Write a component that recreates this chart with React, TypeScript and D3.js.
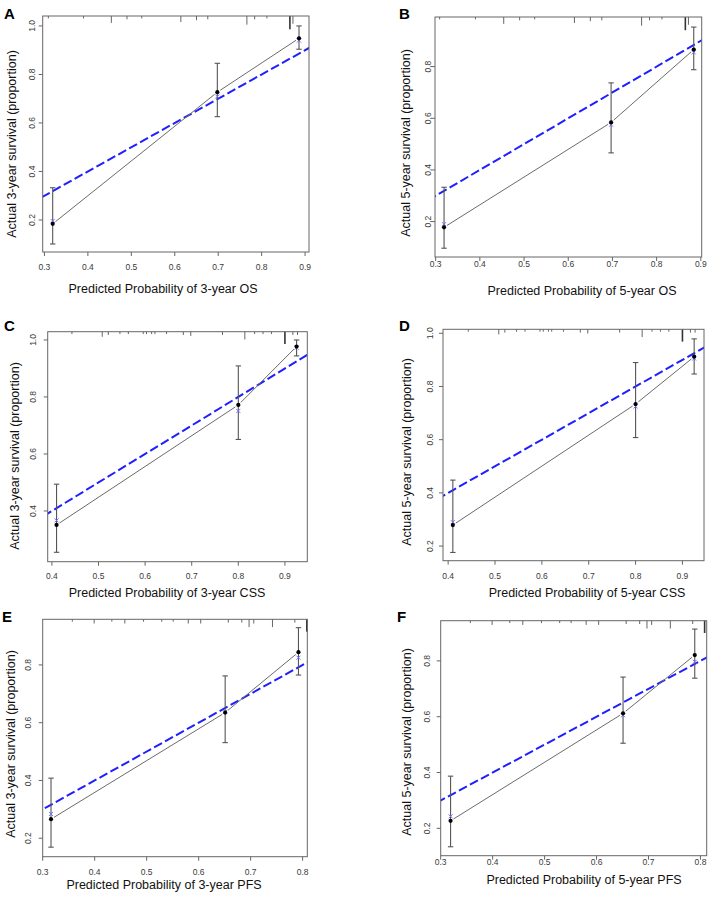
import React from "react";
import * as d3 from "d3";

// Calibration curves: predicted vs. observed survival (3 groups per model)
const panelIds = ["A", "B", "C", "D", "E", "F"];

const xTitles = [
  "Predicted Probability of 3-year OS",
  "Predicted Probability of 5-year OS",
  "Predicted Probability of 3-year CSS",
  "Predicted Probability of 5-year CSS",
  "Predicted Probability of 3-year PFS",
  "Predicted Probability of 5-year PFS",
];

const yTitles = [
  "Actual 3-year survival (proportion)",
  "Actual 5-year survival (proportion)",
  "Actual 3-year survival (proportion)",
  "Actual 5-year survival (proportion)",
  "Actual 3-year survival (proportion)",
  "Actual 5-year survival (proportion)",
];

// Axis limits
const xLimits = [
  [0.296, 0.909],
  [0.2985, 0.902],
  [0.391, 0.948],
  [0.389, 0.946],
  [0.3, 0.809],
  [0.3, 0.812],
];
const yLimits = [
  [0.068, 1.041],
  [0.063, 0.992],
  [0.222, 1.029],
  [0.145, 1.015],
  [0.136, 0.958],
  [0.102, 0.944],
];

const xTickValues = [
  [0.3, 0.4, 0.5, 0.6, 0.7, 0.8, 0.9],
  [0.3, 0.4, 0.5, 0.6, 0.7, 0.8, 0.9],
  [0.4, 0.5, 0.6, 0.7, 0.8, 0.9],
  [0.4, 0.5, 0.6, 0.7, 0.8, 0.9],
  [0.3, 0.4, 0.5, 0.6, 0.7, 0.8],
  [0.3, 0.4, 0.5, 0.6, 0.7, 0.8],
];
const yTickValues = [
  [0.2, 0.4, 0.6, 0.8, 1.0],
  [0.2, 0.4, 0.6, 0.8],
  [0.4, 0.6, 0.8, 1.0],
  [0.2, 0.4, 0.6, 0.8, 1.0],
  [0.2, 0.4, 0.6, 0.8],
  [0.2, 0.4, 0.6, 0.8],
];

// Mean predicted probability in each group
const predicted = [
  [0.319, 0.698, 0.886],
  [0.319, 0.697, 0.884],
  [0.41, 0.8, 0.925],
  [0.41, 0.8, 0.925],
  [0.316, 0.651, 0.792],
  [0.319, 0.651, 0.789],
];
// Kaplan-Meier observed survival
const observed = [
  [0.184, 0.727, 0.949],
  [0.178, 0.584, 0.866],
  [0.351, 0.772, 0.977],
  [0.279, 0.734, 0.912],
  [0.266, 0.635, 0.844],
  [0.227, 0.612, 0.821],
];
const lowerCI = [
  [0.101, 0.626, 0.904],
  [0.097, 0.466, 0.788],
  [0.255, 0.651, 0.944],
  [0.176, 0.608, 0.847],
  [0.169, 0.531, 0.765],
  [0.134, 0.505, 0.738],
];
const upperCI = [
  [0.333, 0.846, 1.0],
  [0.333, 0.737, 0.953],
  [0.494, 0.909, 1.0],
  [0.448, 0.89, 0.979],
  [0.408, 0.762, 0.929],
  [0.387, 0.742, 0.914],
];
// Bootstrap bias-corrected estimates
const corrected = [
  [0.196, 0.709, 0.94],
  [0.19, 0.575, 0.855],
  [0.367, 0.751, 0.973],
  [0.29, 0.725, 0.905],
  [0.284, 0.638, 0.825],
  [0.243, 0.605, 0.797],
];

// Distribution of predicted probabilities (position, relative frequency)
const rugOS: [number, number][] = [
  [0.309, 0.5], [0.39, 0.5], [0.454, 3], [0.49, 1], [0.524, 0.5],
  [0.614, 2.5], [0.65, 1.5], [0.676, 1], [0.766, 4], [0.784, 1],
  [0.812, 0.5], [0.865, 6.5], [0.872, 3.5],
];
const rugCSS: [number, number][] = [
  [0.443, 0.5], [0.508, 2], [0.521, 1], [0.546, 0.5], [0.564, 0.5],
  [0.596, 0.5], [0.603, 0.5], [0.614, 0.5], [0.621, 0.5], [0.646, 0.5],
  [0.682, 1], [0.698, 1.5], [0.766, 1], [0.814, 3.5], [0.835, 0.5],
  [0.853, 0.5], [0.871, 0.5], [0.9, 6], [0.917, 1], [0.927, 1],
];
const rugPFS: [number, number][] = [
  [0.357, 0.5], [0.399, 1.5], [0.433, 0.5], [0.458, 1.5], [0.494, 0.5],
  [0.529, 0.5], [0.551, 0.5], [0.58, 1.5], [0.604, 1.5], [0.657, 1],
  [0.683, 1], [0.697, 3.5], [0.706, 1.5], [0.742, 3.5], [0.785, 1],
  [0.808, 6],
];
const rugs = [rugOS, rugOS, rugCSS, rugCSS, rugPFS, rugPFS];

// Panel placement on the page
const layout = [
  { l: 42.7, r: 309, t: 16, b: 252, lx: 4, ly: 19, xtx: 163, xty: 293, ytx: 16, yty: 144, xg: 18, yg: 8 },
  { l: 435, r: 701.7, t: 17, b: 257, lx: 399, ly: 19, xtx: 582, xty: 295, ytx: 410, yty: 143, xg: 10, yg: 4 },
  { l: 47.7, r: 307.3, t: 331.7, b: 561.7, lx: 4, ly: 331, xtx: 167, xty: 597, ytx: 19, yty: 456, xg: 17, yg: 12 },
  { l: 443, r: 704, t: 329.3, b: 560.7, lx: 399, ly: 331, xtx: 587, xty: 597, ytx: 411, yty: 452, xg: 18, yg: 10 },
  { l: 42.7, r: 307.3, t: 619.3, b: 856.7, lx: 2, ly: 622, xtx: 164, xty: 889, ytx: 15, yty: 744, xg: 18, yg: 12 },
  { l: 440.7, r: 706.7, t: 620.7, b: 855.7, lx: 397, ly: 622, xtx: 584, xty: 884, ytx: 411, yty: 742, xg: 9, yg: 11 },
];

const FONT = "'Liberation Sans', Arial, sans-serif";
const fmt = d3.format(".1f");

function Panel({ i }: { i: number }) {
  const L = layout[i];
  const x = d3.scaleLinear().domain(xLimits[i]).range([L.l, L.r]);
  const y = d3.scaleLinear().domain(yLimits[i]).range([L.b, L.t]);
  const rugLen = d3.scaleLinear().domain([0, 1]).range([1.5, 3.3]);
  const clipId = `clip-${panelIds[i]}`;

  const pts = predicted[i].map((p, k) => [x(p), y(observed[i][k])] as [number, number]);
  // line segments with small gaps around each point
  const gap = 3.5;
  const segs = pts.slice(1).map((p2, k) => {
    const p1 = pts[k];
    const dx = p2[0] - p1[0];
    const dy = p2[1] - p1[1];
    const len = Math.hypot(dx, dy);
    const ux = dx / len, uy = dy / len;
    return [p1[0] + ux * gap, p1[1] + uy * gap, p2[0] - ux * gap, p2[1] - uy * gap];
  });

  const ideal = d3.line<number>().x((d) => x(d)).y((d) => y(d));
  const lo = Math.min(xLimits[i][0], yLimits[i][0]);
  const hi = Math.max(xLimits[i][1], yLimits[i][1]);

  return (
    <g>
      <defs>
        <clipPath id={clipId}>
          <rect x={L.l} y={L.t} width={L.r - L.l} height={L.b - L.t} />
        </clipPath>
      </defs>
      <text x={L.lx} y={L.ly} fontFamily={FONT} fontWeight="bold" fontSize={15} fill="#000">
        {panelIds[i]}
      </text>

      {/* ideal reference line */}
      <path
        d={ideal([lo, hi]) || ""}
        clipPath={`url(#${clipId})`}
        stroke="#1f1fff"
        strokeWidth={2}
        strokeDasharray="9,3.5"
        fill="none"
      />

      {/* observed calibration line */}
      {segs.map((s, k) => (
        <line key={k} x1={s[0]} y1={s[1]} x2={s[2]} y2={s[3]} stroke="#6b6b6b" strokeWidth={1} />
      ))}

      {/* confidence intervals */}
      {predicted[i].map((p, k) => {
        const cx = x(p);
        return (
          <g key={k} stroke="#555" strokeWidth={1.1}>
            <line x1={cx} x2={cx} y1={y(lowerCI[i][k])} y2={y(upperCI[i][k])} />
            <line x1={cx - 2.7} x2={cx + 2.7} y1={y(lowerCI[i][k])} y2={y(lowerCI[i][k])} />
            <line x1={cx - 2.7} x2={cx + 2.7} y1={y(upperCI[i][k])} y2={y(upperCI[i][k])} />
          </g>
        );
      })}

      {/* bias-corrected estimates */}
      {predicted[i].map((p, k) => {
        const cx = x(p), cy = y(corrected[i][k]);
        return (
          <g key={k} stroke="#6f6fff" strokeWidth={1}>
            <line x1={cx - 2} x2={cx + 2} y1={cy - 2} y2={cy + 2} />
            <line x1={cx - 2} x2={cx + 2} y1={cy + 2} y2={cy - 2} />
          </g>
        );
      })}

      {/* observed points */}
      {pts.map((p, k) => (
        <circle key={k} cx={p[0]} cy={p[1]} r={2.1} fill="#000" />
      ))}

      {/* rug of predicted values */}
      {rugs[i].map(([v, c], k) => (
        <line
          key={k}
          x1={x(v)}
          x2={x(v)}
          y1={L.t}
          y2={L.t + rugLen(c)}
          stroke={c >= 6 ? "#333" : "#666"}
          strokeWidth={c >= 6 ? 1.6 : 1}
        />
      ))}

      {/* frame */}
      <rect x={L.l} y={L.t} width={L.r - L.l} height={L.b - L.t} fill="none" stroke="#666" strokeWidth={1} />

      {/* x axis */}
      {xTickValues[i].map((v) => (
        <g key={v}>
          <line x1={x(v)} x2={x(v)} y1={L.b} y2={L.b + 4} stroke="#666" />
          <text
            x={x(v)}
            y={L.b + L.xg}
            textAnchor="middle"
            fontFamily={FONT}
            fontSize={8.5}
            fill="#3a3a3a"
          >
            {fmt(v)}
          </text>
        </g>
      ))}
      {/* y axis */}
      {yTickValues[i].map((v) => (
        <g key={v}>
          <line x1={L.l - 4} x2={L.l} y1={y(v)} y2={y(v)} stroke="#666" />
          <text
            transform={`translate(${L.l - L.yg},${y(v)}) rotate(-90)`}
            textAnchor="middle"
            fontFamily={FONT}
            fontSize={8.5}
            fill="#3a3a3a"
          >
            {fmt(v)}
          </text>
        </g>
      ))}

      <text x={L.xtx} y={L.xty} textAnchor="middle" fontFamily={FONT} fontSize={12.5} fill="#111">
        {xTitles[i]}
      </text>
      <text
        transform={`translate(${L.ytx},${L.yty}) rotate(-90)`}
        textAnchor="middle"
        fontFamily={FONT}
        fontSize={12.5}
        fill="#111"
      >
        {yTitles[i]}
      </text>
    </g>
  );
}

export default function App() {
  return (
    <svg
      width={708}
      height={897}
      style={{ position: "absolute", left: 0, top: 0, background: "#fff" }}
    >
      <rect width={708} height={897} fill="#fff" />
      {panelIds.map((_, i) => (
        <Panel key={i} i={i} />
      ))}
    </svg>
  );
}
